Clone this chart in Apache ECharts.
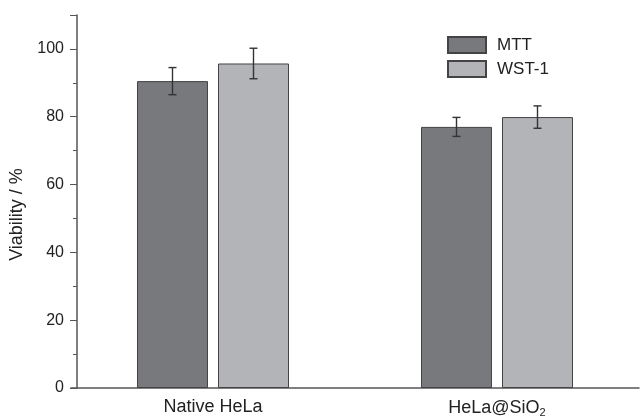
<!DOCTYPE html>
<html lang="en">
<head>
  <meta charset="UTF-8">
  <title>Viability</title>
  <script src="https://cdn.jsdelivr.net/npm/echarts@6/dist/echarts.min.js"></script>
</head>
<body style="margin:0;background:#fff">
<div id="main" style="width:643px;height:420px"></div>
<script>
  var groups = ['Native HeLa', 'HeLa@SiO₂'];
  var seriesNames = ['MTT', 'WST-1'];
  var mttValues = [90.5, 77.0];
  var mttErrors = [4.0, 2.8];
  var wstValues = [95.7, 79.9];
  var wstErrors = [4.5, 3.3];

  var chart = echarts.init(document.getElementById('main'));
  var barW = 71, gap = 10;

  function errorSeries(values, errors, shift) {
    return {
      type: 'custom',
      z: 5,
      silent: true,
      data: values.map(function (v, i) { return [i, v, errors[i]]; }),
      encode: {x: 0, y: 1},
      renderItem: function (params, api) {
        var i = api.value(0), v = api.value(1), e = api.value(2);
        var hi = api.coord([i, v + e]);
        var lo = api.coord([i, v - e]);
        var x = hi[0] + shift;
        var st = {stroke: '#333', lineWidth: 1.4};
        return {
          type: 'group',
          children: [
            {type: 'line', shape: {x1: x, y1: hi[1], x2: x, y2: lo[1]}, style: st},
            {type: 'line', shape: {x1: x - 4, y1: hi[1], x2: x + 4, y2: hi[1]}, style: st},
            {type: 'line', shape: {x1: x - 4, y1: lo[1], x2: x + 4, y2: lo[1]}, style: st}
          ]
        };
      }
    };
  }

  chart.setOption({
    animation: false,
    grid: {left: 71, right: 4, top: 15, bottom: 32},
    legend: {
      orient: 'vertical', left: 442, top: 31,
      itemWidth: 38, itemHeight: 16, itemGap: 6, icon: 'rect',
      data: seriesNames,
      textStyle: {fontSize: 17, color: '#222', fontFamily: 'Liberation Sans', padding: [0, 0, 0, 6]}
    },
    xAxis: {
      type: 'category', data: groups,
      axisTick: {show: false},
      axisLine: {lineStyle: {color: '#555', width: 1.5}},
      axisLabel: {
        fontSize: 18, color: '#222', fontFamily: 'Liberation Sans', margin: 10,
        formatter: function (v) { return v.replace('₂', '{sub|2}'); },
        rich: {sub: {fontSize: 11, color: '#222', fontFamily: 'Liberation Sans', verticalAlign: 'bottom', padding: [9, 0, 0, 0]}}
      }
    },
    yAxis: {
      type: 'value', min: 0, max: 110, interval: 20, offset: -6,
      name: 'Viability / %', nameLocation: 'middle', nameGap: 47,
      nameTextStyle: {fontSize: 18, color: '#222', fontFamily: 'Liberation Sans', padding: [0, 26, 0, 0]},
      axisLine: {show: true, lineStyle: {color: '#555', width: 1.5}},
      axisTick: {show: true, length: 7, lineStyle: {color: '#555'}},
      minorTick: {show: true, splitNumber: 2, length: 4, lineStyle: {color: '#555'}},
      splitLine: {show: false},
      axisLabel: {fontSize: 16, color: '#222', fontFamily: 'Liberation Sans', margin: 13, showMaxLabel: false}
    },
    series: [
      {name: 'MTT', type: 'bar', data: mttValues, barWidth: barW, barGap: (gap / barW * 100).toFixed(1) + '%',
       itemStyle: {color: '#78797c', borderColor: '#444', borderWidth: 1}},
      {name: 'WST-1', type: 'bar', data: wstValues, barWidth: barW,
       itemStyle: {color: '#b3b4b7', borderColor: '#444', borderWidth: 1}},
      errorSeries(mttValues, mttErrors, -(barW + gap) / 2),
      errorSeries(wstValues, wstErrors, (barW + gap) / 2)
    ]
  });
</script>
</body>
</html>
